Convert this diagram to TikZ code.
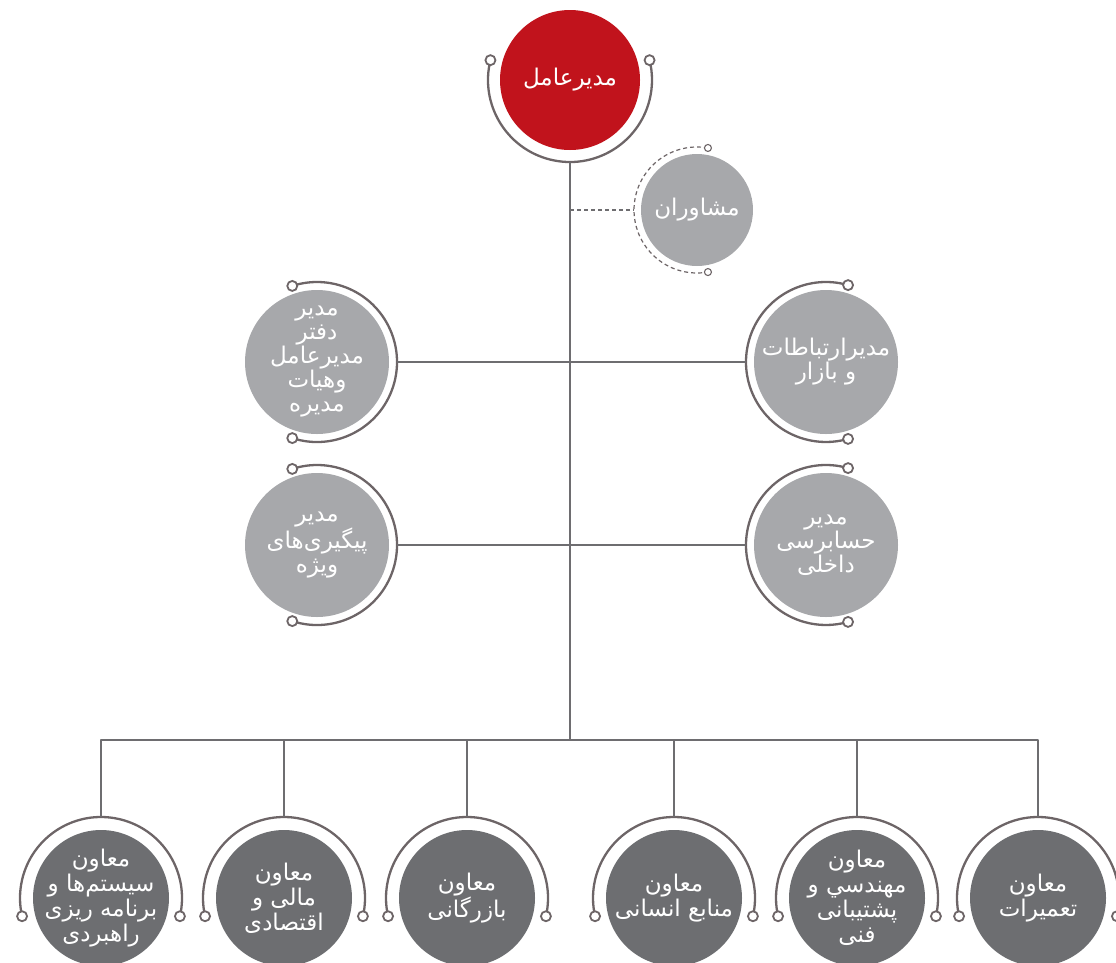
\documentclass[tikz,border=0pt]{standalone}
\usepackage{fontspec}
\usepackage{tikz}
\usetikzlibrary{calc,positioning}
\newfontfamily\farsi[Script=Arabic]{DejaVu Sans}
\TeXXeTstate=1
\newcommand{\fa}[1]{\beginR #1\endR}
\definecolor{ceored}{HTML}{C1131C}
\definecolor{lightgrey}{HTML}{A7A8AB}
\definecolor{darkgrey}{HTML}{6D6E71}
\definecolor{linegrey}{HTML}{6E6D70}
\definecolor{ringgrey}{HTML}{6D6567}

\begin{document}
\begin{tikzpicture}[x=1pt,y=1pt]

\tikzset{unit/.style={circle,inner sep=-14pt,text=white,align=center,font=\farsi\fontsize{23}{24}\selectfont},
boss/.style={unit,fill=ceored,minimum size=140pt},
adviser/.style={unit,fill=lightgrey,minimum size=112pt},
office/.style={unit,fill=lightgrey,minimum size=144pt},
deputy/.style={unit,fill=darkgrey,minimum size=136pt,font=\farsi\fontsize{23}{25}\selectfont},
ring/.style={draw=ringgrey,line width=2.3pt},
conn/.style={draw=linegrey,line width=2.4pt,line join=round},
tip/.style={circle,draw=ringgrey,fill=white,line width=1.8pt,minimum size=10pt,inner sep=0pt}}

\useasboundingbox (0,0) rectangle (1116,-962);

% top
\node[boss] (ceo) at (570,-80) {\fa{مدیرعامل}};
\node[adviser] (adv) at (697,-210) {\fa{مشاوران}};

% staff offices
\node[office] (ml1) at (317,-362) {\fa{مدیر}\\\fa{دفتر}\\\fa{مدیرعامل}\\\fa{وهیات}\\\fa{مدیره}};
\node[office] (ml2) at (317,-545) {\fa{مدیر}\\\fa{پیگیری‌های}\\\fa{ویژه}};
\node[office] (mr1) at (826,-362) {\fa{مدیرارتباطات}\\\fa{و بازار}};
\node[office] (mr2) at (826,-545) {\fa{مدیر}\\\fa{حسابرسی}\\\fa{داخلی}};

% deputies
\node[deputy] (b1) at (101,-898) {\fa{معاون}\\\fa{سیستم‌ها و}\\\fa{برنامه ریزی}\\\fa{راهبردی}};
\node[deputy] (b2) at (284,-898) {\fa{معاون}\\\fa{مالی و}\\\fa{اقتصادی}};
\node[deputy] (b3) at (467,-898) {\fa{معاون}\\\fa{بازرگانی}};
\node[deputy] (b4) at (674,-898) {\fa{معاون}\\\fa{منابع انسانی}};
\node[deputy] (b5) at (857,-898) {\fa{معاون}\\\fa{مهندسي و}\\\fa{پشتیبانی}\\\fa{فنی}};
\node[deputy] (b6) at (1038,-898) {\fa{معاون}\\\fa{تعمیرات}};

% rings with end tips
\foreach \n/\a/\b/\c/\r in {ceo/166/374/270/82, ml1/-108/108/0/80, ml2/-108/108/0/80, mr1/74/286/180/80, mr2/74/286/180/80,
  b1/-13/193/90/81, b2/-13/193/90/81, b3/-13/193/90/81, b4/-13/193/90/81, b5/-13/193/90/81, b6/-13/193/90/81} {
  \draw[ring] ($(\n)+(\a:\r)$) arc[start angle=\a,end angle=\b,radius=\r];
  \node[tip] (\n-a) at ($(\n)+(\a:\r)$) {};
  \node[tip] (\n-b) at ($(\n)+(\b:\r)$) {};
  \coordinate (\n-c) at ($(\n)+(\c:\r)$);
}
\draw[ring,line width=1.2pt,dash pattern=on 4pt off 3pt] ($(adv)+(80:63)$) arc[start angle=80,end angle=280,radius=63];
\node[tip,line width=1.1pt,minimum size=7pt] (adv-a) at ($(adv)+(80:63)$) {};
\node[tip,line width=1.1pt,minimum size=7pt] (adv-b) at ($(adv)+(280:63)$) {};
\coordinate (adv-c) at ($(adv)+(180:63)$);

% Edges
\coordinate (bar) at (570,-740);
\draw[conn] (ceo-c) -- (bar);
\draw[conn,line width=1.2pt,dash pattern=on 4pt off 3pt] (ceo-c |- adv) -- (adv-c);
\draw[conn] (ml1-c) -- (mr1-c); \draw[conn] (ml2-c) -- (mr2-c);
\draw[conn] (b1-c) |- (bar) -| (b6-c);
\foreach \i in {2,3,4,5} \draw[conn] (b\i-c) -- (b\i-c |- bar);

\end{tikzpicture}
\end{document}
